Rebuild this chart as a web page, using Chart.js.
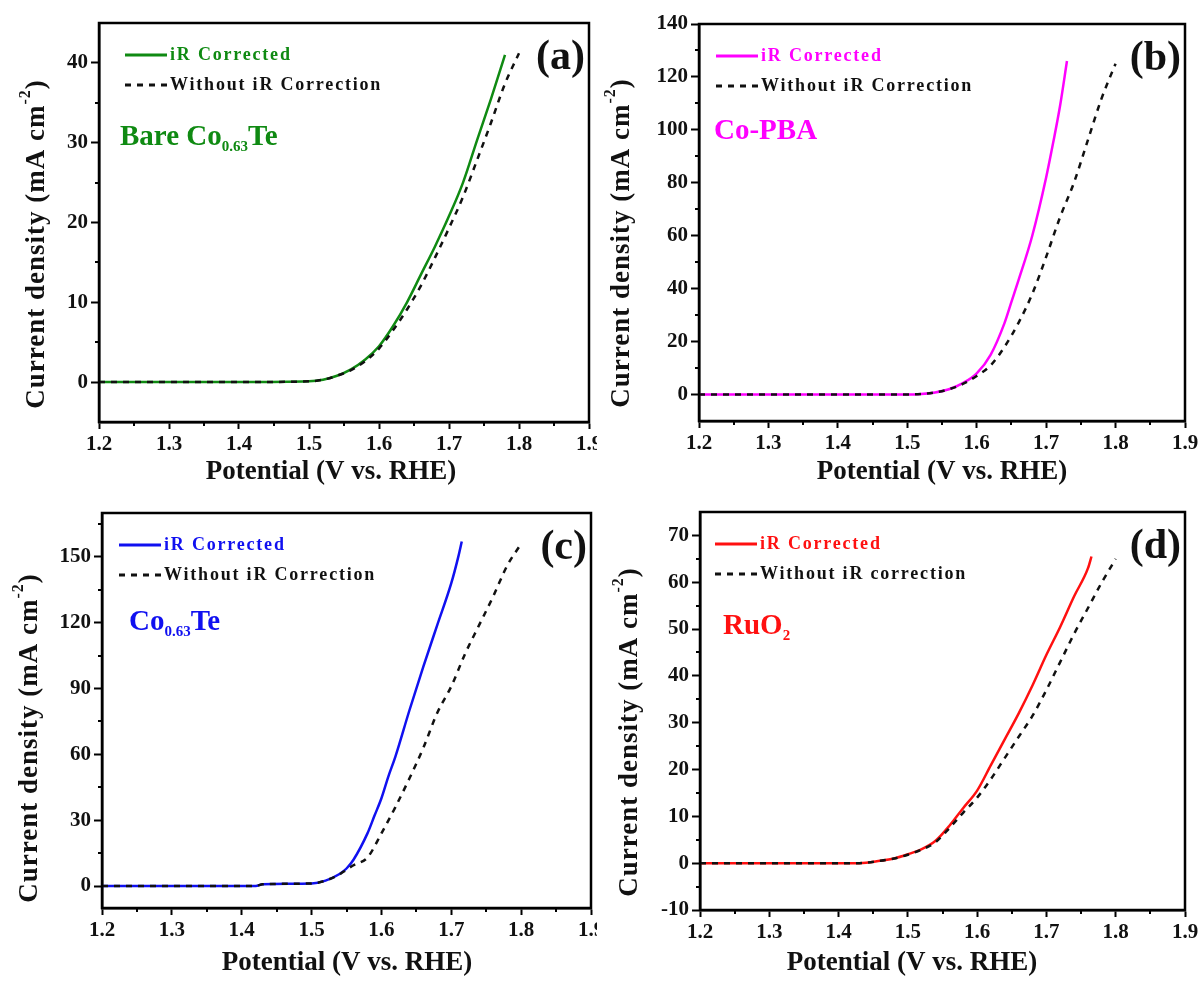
<!DOCTYPE html>
<html>
<head>
<meta charset="utf-8">
<title>LSV iR correction</title>
<script src="https://cdn.jsdelivr.net/npm/chart.js@4"></script>
<style>
  html, body { margin: 0; padding: 0; background: #fff; }
  #figure { position: relative; width: 1203px; height: 981px; overflow: hidden; }
  #figure canvas { position: absolute; }
</style>
</head>
<body>
<div id="figure">
  <canvas id="chart-a" width="597" height="490" style="left:0;top:0"></canvas>
  <canvas id="chart-b" width="603" height="490" style="left:600px;top:0"></canvas>
  <canvas id="chart-c" width="597" height="491" style="left:0;top:490px"></canvas>
  <canvas id="chart-d" width="603" height="491" style="left:600px;top:490px"></canvas>
</div>
<script>
/* ============================================================================
   LSV CURVES: iR CORRECTED vs WITHOUT iR CORRECTION
   (a) Bare Co0.63Te  (b) Co-PBA  (c) Co0.63Te  (d) RuO2
============================================================================ */

/* ===================== DATA (V vs. RHE, mA cm-2) ===================== */

const potA_ir = [1.20, 1.30, 1.40, 1.50, 1.52, 1.54, 1.56, 1.58, 1.60, 1.62, 1.64, 1.66, 1.68, 1.70, 1.72, 1.74, 1.76, 1.78];
const curA_ir = [0, 0, 0, 0.1, 0.3, 0.8, 1.6, 2.8, 4.5, 7.0, 10.0, 13.5, 17.0, 20.8, 25.0, 30.3, 35.5, 41.0];
const potA_raw = [1.20, 1.30, 1.40, 1.50, 1.52, 1.54, 1.56, 1.58, 1.60, 1.62, 1.64, 1.66, 1.68, 1.70, 1.72, 1.74, 1.76, 1.78, 1.80];
const curA_raw = [0, 0, 0, 0.1, 0.3, 0.8, 1.5, 2.6, 4.2, 6.5, 9.1, 12.1, 15.6, 19.3, 23.2, 27.8, 32.5, 37.4, 41.2];

const potB_ir = [1.20, 1.30, 1.40, 1.50, 1.52, 1.54, 1.56, 1.58, 1.60, 1.62, 1.64, 1.65, 1.66, 1.68, 1.70, 1.71, 1.72, 1.73];
const curB_ir = [0, 0, 0, 0, 0.2, 0.8, 2.0, 4.3, 8.0, 15, 27, 35, 43, 60, 82, 95, 109, 126];
const potB_raw = [1.20, 1.30, 1.40, 1.50, 1.52, 1.54, 1.56, 1.58, 1.60, 1.62, 1.64, 1.66, 1.68, 1.70, 1.72, 1.74, 1.76, 1.78, 1.80];
const curB_raw = [0, 0, 0, 0, 0.2, 0.8, 2.0, 4.0, 7.0, 11, 18, 27, 38, 52, 67, 80, 96, 112, 125];

const potC_ir = [1.20, 1.30, 1.40, 1.42, 1.43, 1.50, 1.52, 1.54, 1.55, 1.56, 1.58, 1.59, 1.60, 1.61, 1.62, 1.64, 1.66, 1.68, 1.70, 1.71, 1.715];
const curC_ir = [0, 0, 0, 0, 0.8, 1.2, 2.5, 5.5, 8, 12, 24, 32, 40, 50, 59, 80, 100, 119, 138, 150, 157];
const potC_raw = [1.20, 1.30, 1.40, 1.42, 1.43, 1.50, 1.52, 1.54, 1.55, 1.56, 1.58, 1.60, 1.62, 1.64, 1.66, 1.68, 1.70, 1.72, 1.74, 1.76, 1.78, 1.80];
const curC_raw = [0, 0, 0, 0, 0.8, 1.2, 2.5, 5.3, 7.5, 9.5, 13, 24, 36, 49, 63, 79, 91, 106, 119, 132, 146, 156];

const potD_ir = [1.20, 1.30, 1.40, 1.43, 1.46, 1.48, 1.50, 1.52, 1.54, 1.56, 1.58, 1.60, 1.62, 1.64, 1.66, 1.68, 1.70, 1.72, 1.74, 1.76, 1.765];
const curD_ir = [0, 0, 0, 0, 0.5, 1.0, 1.9, 3.0, 4.8, 8.0, 11.8, 15.5, 21, 26.5, 32, 38, 44.5, 50.5, 57, 63, 65.5];
const potD_raw = [1.20, 1.30, 1.40, 1.43, 1.46, 1.48, 1.50, 1.52, 1.54, 1.56, 1.58, 1.60, 1.62, 1.64, 1.66, 1.68, 1.70, 1.72, 1.74, 1.76, 1.78, 1.80];
const curD_raw = [0, 0, 0, 0, 0.5, 1.0, 1.8, 2.9, 4.5, 7.5, 10.8, 14, 18, 22.5, 27, 31.5, 37, 43, 49, 54.5, 60, 65];

/* ===================== AXES / LABELS ===================== */

const X_MIN = 1.2;
const X_MAX = 1.9;
const X_STEP = 0.1;

// [min, max, major step]
const Y_LIMITS_A = [-5, 45, 10];
const Y_LIMITS_B = [-10, 140, 20];
const Y_LIMITS_C = [-10, 170, 30];
const Y_LIMITS_D = [-10, 75, 10];

const TAGS = ["(a)", "(b)", "(c)", "(d)"];
const SAMPLE_LABELS = [
  [["Bare Co", false], ["0.63", true], ["Te", false]],
  [["Co-PBA", false]],
  [["Co", false], ["0.63", true], ["Te", false]],
  [["RuO", false], ["2", true]],
];
const LEGEND_IR = "iR Corrected";
const LEGEND_RAW = ["Without iR Correction", "Without iR Correction", "Without iR Correction", "Without iR correction"];

const X_TITLE = "Potential (V vs. RHE)";
const Y_TITLE = ["Current density (mA cm", "-2", ")"];

/* ===================== COLORS ===================== */

const PANEL_COLORS = ["#0f8a12", "#ff00ff", "#1010f0", "#ff1010"];
const FONT = "'Liberation Serif', 'Times New Roman', serif";

/* ===================== PANEL LAYOUT (pixels) ===================== */

const LAYOUT = [
  { id: "chart-a", yWidth: 99, xHeight: 68, pad: { top: 23, right: 8 }, legendX: 26, sampleX: 21, sampleY: 115, yTitle: [37, 244], xTitle: [331, 472] },
  { id: "chart-b", yWidth: 99, xHeight: 69, pad: { top: 24, right: 18 }, legendX: 17, sampleX: 15, sampleY: 108, yTitle: [22, 243], xTitle: [342, 472] },
  { id: "chart-c", yWidth: 102, xHeight: 73, pad: { top: 23, right: 6 }, legendX: 17, sampleX: 27, sampleY: 110, yTitle: [30, 248], xTitle: [347, 473] },
  { id: "chart-d", yWidth: 100, xHeight: 71, pad: { top: 22, right: 18 }, legendX: 15, sampleX: 23, sampleY: 115, yTitle: [30, 242], xTitle: [312, 473] },
];

/* ============================================================================
   DECORATION PLUGIN: frame, minor ticks, legend, labels, axis titles
============================================================================ */

function drawParts(ctx, parts, x, y, size, subSize) {
  let cx = x;
  parts.forEach(([text, sub]) => {
    ctx.font = `bold ${sub ? subSize : size}px ${FONT}`;
    ctx.fillText(text, cx, sub ? y + size * 0.32 : y);
    cx += ctx.measureText(text).width;
  });
}

const panelDecor = {
  id: "panelDecor",
  afterDraw(chart, args, opts) {
    const { ctx, chartArea: a } = chart;
    const xs = chart.scales.x;
    const ys = chart.scales.y;
    const lay = opts.layout;

    ctx.save();
    ctx.strokeStyle = "#000";
    ctx.fillStyle = "#000";

    // frame
    ctx.lineWidth = 2.5;
    ctx.strokeRect(a.left, a.top, a.right - a.left, a.bottom - a.top);

    // minor ticks
    ctx.lineWidth = 2;
    ctx.beginPath();
    for (let v = X_MIN + X_STEP / 2; v < X_MAX; v += X_STEP) {
      const px = Math.round(xs.getPixelForValue(v));
      ctx.moveTo(px, a.bottom);
      ctx.lineTo(px, a.bottom + 4);
    }
    const step = opts.yStep;
    for (let v = Math.ceil(ys.min / step) * step - step / 2; v < ys.max; v += step) {
      if (v <= ys.min) continue;
      const py = Math.round(ys.getPixelForValue(v));
      ctx.moveTo(a.left, py);
      ctx.lineTo(a.left - 4, py);
    }
    ctx.stroke();

    // legend
    const ds = chart.data.datasets;
    ctx.textBaseline = "middle";
    ctx.textAlign = "left";
    ctx.letterSpacing = "1.8px";
    ctx.font = `bold 18px ${FONT}`;
    [0, 1].forEach((i) => {
      const ly = a.top + 32 + i * 30;
      const lx = a.left + lay.legendX;
      ctx.beginPath();
      ctx.lineWidth = 3;
      ctx.strokeStyle = ds[i].borderColor;
      ctx.setLineDash(ds[i].borderDash || []);
      ctx.moveTo(lx, ly);
      ctx.lineTo(lx + 42, ly);
      ctx.stroke();
      ctx.setLineDash([]);
      ctx.fillStyle = i === 0 ? ds[i].borderColor : "#111";
      ctx.fillText(ds[i].label, lx + 45, ly);
    });
    ctx.letterSpacing = "0px";

    // sample label
    ctx.fillStyle = opts.color;
    drawParts(ctx, opts.sample, a.left + lay.sampleX, a.top + lay.sampleY, 29, 15);

    // panel tag
    ctx.fillStyle = "#111";
    ctx.textAlign = "right";
    ctx.font = `bold 42px ${FONT}`;
    ctx.fillText(opts.tag, a.right - 4, a.top + 35);

    // x title
    ctx.textAlign = "center";
    ctx.font = `bold 27px ${FONT}`;
    ctx.fillText(X_TITLE, lay.xTitle[0], lay.xTitle[1]);

    // y title with superscript
    ctx.translate(lay.yTitle[0], lay.yTitle[1]);
    ctx.rotate(-Math.PI / 2);
    ctx.textAlign = "left";
    ctx.letterSpacing = "1px";
    ctx.font = `bold 27px ${FONT}`;
    const w1 = ctx.measureText(Y_TITLE[0]).width;
    const w3 = ctx.measureText(Y_TITLE[2]).width;
    ctx.font = `bold 16px ${FONT}`;
    const w2 = ctx.measureText(Y_TITLE[1]).width;
    let tx = -(w1 + w2 + w3) / 2;
    ctx.font = `bold 27px ${FONT}`;
    ctx.fillText(Y_TITLE[0], tx, 0);
    tx += w1;
    ctx.font = `bold 16px ${FONT}`;
    ctx.fillText(Y_TITLE[1], tx, -11);
    tx += w2;
    ctx.font = `bold 27px ${FONT}`;
    ctx.fillText(Y_TITLE[2], tx, 0);

    ctx.restore();
  },
};

/* ============================================================================
   CHART BUILDER
============================================================================ */

function toPoints(xs, ys) {
  return xs.map((x, i) => ({ x, y: ys[i] }));
}

function majorTicks(min, max, step) {
  const ticks = [];
  for (let k = Math.ceil(min / step); k * step <= max + 1e-9; k++) {
    ticks.push({ value: +(k * step).toFixed(6) });
  }
  return ticks;
}

function buildPanel(index, irX, irY, rawX, rawY, yLimits) {
  const lay = LAYOUT[index];
  const color = PANEL_COLORS[index];
  const [yMin, yMax, yStep] = yLimits;
  const tickFont = { family: FONT, weight: "bold", size: 21 };

  return new Chart(document.getElementById(lay.id), {
    type: "line",
    data: {
      datasets: [
        {
          label: LEGEND_IR,
          data: toPoints(irX, irY),
          borderColor: color,
          borderWidth: 2.5,
          pointRadius: 0,
          cubicInterpolationMode: "monotone",
          order: 1,
        },
        {
          label: LEGEND_RAW[index],
          data: toPoints(rawX, rawY),
          borderColor: "#111",
          borderWidth: 2.5,
          borderDash: [6, 6],
          pointRadius: 0,
          cubicInterpolationMode: "monotone",
          order: 0,
        },
      ],
    },
    options: {
      responsive: false,
      animation: false,
      devicePixelRatio: 1,
      layout: { padding: { left: 0, top: lay.pad.top, right: lay.pad.right, bottom: 0 } },
      plugins: {
        legend: { display: false },
        tooltip: { enabled: false },
        panelDecor: {
          layout: lay,
          color,
          yStep,
          tag: TAGS[index],
          sample: SAMPLE_LABELS[index],
        },
      },
      scales: {
        x: {
          type: "linear",
          min: X_MIN,
          max: X_MAX,
          ticks: {
            color: "#111",
            font: tickFont,
            padding: 3,
            maxRotation: 0,
            autoSkip: false,
            callback: (v) => v.toFixed(1),
          },
          afterBuildTicks: (s) => {
            s.ticks = majorTicks(X_MIN, X_MAX, X_STEP);
          },
          grid: { drawOnChartArea: false, tickLength: 7, tickWidth: 2, tickColor: "#000" },
          border: { color: "#000", width: 2.5 },
          afterFit: (s) => {
            s.height = lay.xHeight;
            s.paddingLeft = 0;
            s.paddingRight = 0;
          },
        },
        y: {
          type: "linear",
          min: yMin,
          max: yMax,
          ticks: {
            color: "#111",
            font: tickFont,
            padding: 3,
            autoSkip: false,
          },
          afterBuildTicks: (s) => {
            s.ticks = majorTicks(yMin, yMax, yStep);
          },
          grid: { drawOnChartArea: false, tickLength: 8, tickWidth: 2, tickColor: "#000" },
          border: { color: "#000", width: 2.5 },
          afterFit: (s) => {
            s.width = lay.yWidth;
            s.paddingTop = 0;
            s.paddingBottom = 0;
          },
        },
      },
    },
    plugins: [panelDecor],
  });
}

/* ============================================================================
   INIT
============================================================================ */

buildPanel(0, potA_ir, curA_ir, potA_raw, curA_raw, Y_LIMITS_A);
buildPanel(1, potB_ir, curB_ir, potB_raw, curB_raw, Y_LIMITS_B);
buildPanel(2, potC_ir, curC_ir, potC_raw, curC_raw, Y_LIMITS_C);
buildPanel(3, potD_ir, curD_ir, potD_raw, curD_raw, Y_LIMITS_D);
</script>
</body>
</html>
